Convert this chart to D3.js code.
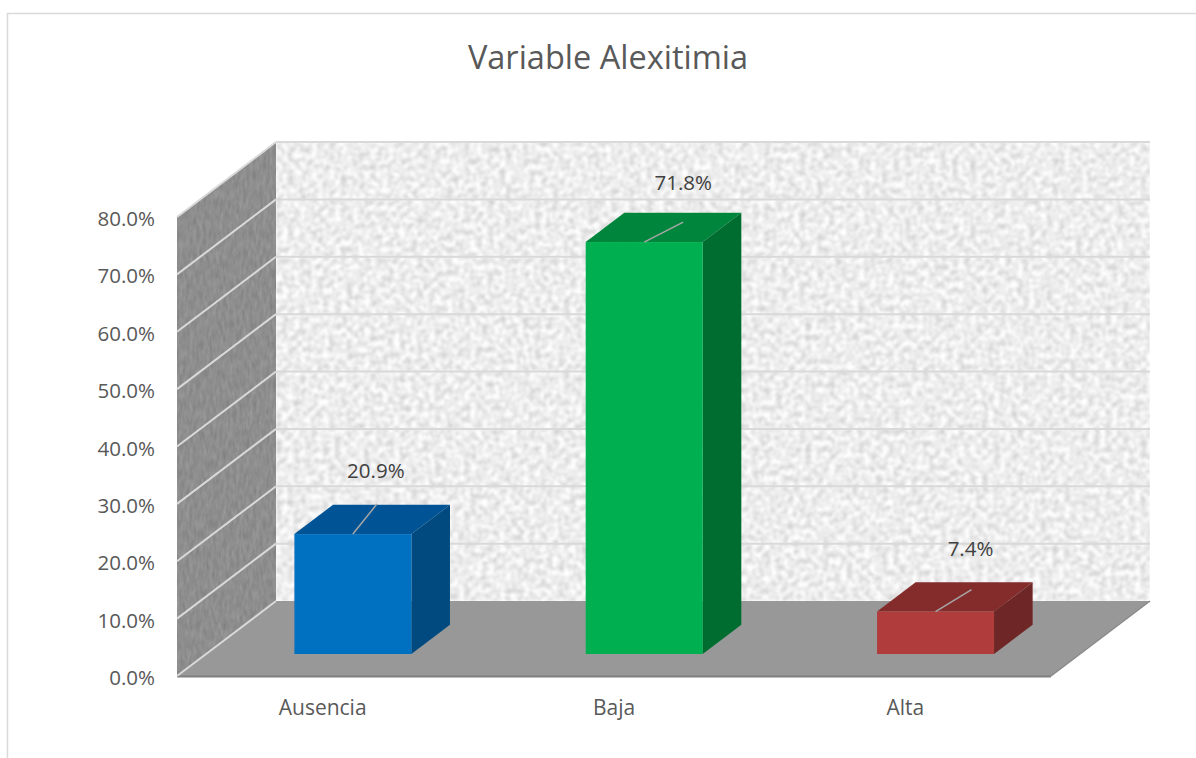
<!DOCTYPE html>
<html><head><meta charset="utf-8">
<script src="https://cdn.jsdelivr.net/npm/d3@7"></script>
<style>html,body{margin:0;padding:0;background:#fff}svg{display:block}text{font-family:"Open Sans",sans-serif}</style>
</head><body><div id="c"></div>
<script>
const categories = ["Ausencia","Baja","Alta"];
const values = [20.9,71.8,7.4];
const valueLabels = ["20.9%","71.8%","7.4%"];
const yTicks = [0,10,20,30,40,50,60,70,80];
const faceColors = ["#0070c0","#00b050","#b13c3c"];
const topColors = ["#005496","#00863c","#842c2c"];
const sideColors = ["#004a80","#006d30","#6f2626"];
const titleText = "Variable Alexitimia";

const W=1196,H=758;
const svg=d3.select("#c").append("svg").attr("width",W).attr("height",H);
const defs=svg.append("defs");
const wallF=defs.append("filter").attr("id","wallTex").attr("x",0).attr("y",0).attr("width",1).attr("height",1).attr("color-interpolation-filters","sRGB");
wallF.append("feTurbulence").attr("type","fractalNoise").attr("baseFrequency",0.17).attr("numOctaves",4).attr("seed",4);
wallF.append("feColorMatrix").attr("values","0.33 0 0 0 0.765  0.33 0 0 0 0.765  0.33 0 0 0 0.765  0 0 0 0 1");
wallF.append("feGaussianBlur").attr("stdDeviation",0.8);
const sideF=defs.append("filter").attr("id","sideTex").attr("x",0).attr("y",0).attr("width",1).attr("height",1).attr("color-interpolation-filters","sRGB");
sideF.append("feTurbulence").attr("type","fractalNoise").attr("baseFrequency","0.3 0.1").attr("numOctaves",3).attr("seed",9);
sideF.append("feColorMatrix").attr("values","0.13 0 0 0 0.49  0.13 0 0 0 0.49  0.13 0 0 0 0.49  0 0 0 0 1");
const clipSide=defs.append("clipPath").attr("id","sideClip");

// frame
const frame="#d9d9d9";
svg.append("path").attr("d",`M7.5,758V13.5H1196`).attr("fill","none").attr("stroke",frame).attr("stroke-width",1.5);

// scales
const y=d3.scaleLinear().domain([0,80]).range([676,217]);
const x=d3.scaleBand().domain(categories).range([177,1051]);
const dx=99,dy=-75;       // depth of the floor
const bd=0.39, bo=0.30;    // bar depth and bar offset, as share of the floor depth
const barW=117;
const y0=y(0),yT=y(80),xL=177,xR=1051;

// back wall
svg.append("rect").attr("x",xL+dx).attr("y",yT+dy).attr("width",xR-xL).attr("height",y0-yT).attr("fill","#eee").attr("filter","url(#wallTex)");
// side wall
const sidePts=`${xL},${yT} ${xL+dx},${yT+dy} ${xL+dx},${y0+dy} ${xL},${y0}`;
clipSide.append("polygon").attr("points",sidePts);
svg.append("g").attr("clip-path","url(#sideClip)").append("rect").attr("x",xL).attr("y",yT+dy).attr("width",dx).attr("height",y0-yT-dy).attr("filter","url(#sideTex)");
// floor
svg.append("polygon").attr("points",`${xL},${y0} ${xL+dx},${y0+dy} ${xR+dx},${y0+dy} ${xR},${y0}`).attr("fill","#989898");
svg.append("line").attr("x1",xL).attr("y1",y0+.5).attr("x2",xR).attr("y2",y0+.5).attr("stroke","#7f7f7f").attr("stroke-width",2);
svg.append("line").attr("x1",xR).attr("y1",y0).attr("x2",xR+dx).attr("y2",y0+dy).attr("stroke","#8a8a8a").attr("stroke-width",1.5);

// gridlines
yTicks.forEach(t=>{
  const g=svg.append("g").attr("fill","none").attr("stroke","#d9d9d9").attr("stroke-width",2);
  g.append("line").attr("x1",xL).attr("y1",y(t)).attr("x2",xL+dx).attr("y2",y(t)+dy);
  if(t>0) g.append("line").attr("x1",xL+dx).attr("y1",y(t)+dy).attr("x2",xR+dx).attr("y2",y(t)+dy);
});

// bars
const ox=dx*bo+0.5,oy=dy*bo+0.5,bx=dx*bd,by=dy*bd;
const cx=c=>x(c)+x.bandwidth()/2+ox;
const bars=svg.append("g").selectAll("g").data(categories).join("g");
bars.each(function(c,i){
  const g=d3.select(this),l=cx(c)-barW/2,r=l+barW,b=y(0)+oy,t=y(values[i])+oy;
  g.append("polygon").attr("points",`${l},${t} ${l+bx},${t+by} ${r+bx},${t+by} ${r},${t}`).attr("fill",topColors[i]);
  g.append("polygon").attr("points",`${r},${t} ${r+bx},${t+by} ${r+bx},${b+by} ${r},${b}`).attr("fill",sideColors[i]);
  g.append("rect").attr("x",l).attr("y",t).attr("width",barW).attr("height",b-t).attr("fill",faceColors[i]);
});

// leader lines and value labels
const labelOff=[[24,-30,23,-56],[39,-20,39,-52],[36,-22,35,-56]];
categories.forEach((c,i)=>{
  const px=cx(c),py=y(values[i])+oy,o=labelOff[i];
  svg.append("line").attr("x1",px).attr("y1",py).attr("x2",px+o[0]).attr("y2",py+o[1]).attr("stroke","#a6a6a6").attr("stroke-width",1.5);
  svg.append("text").attr("x",px+o[2]).attr("y",py+o[3]).attr("text-anchor","middle").attr("font-size",20.5).attr("fill","#404040").text(valueLabels[i]);
});

// axes
const ay=svg.append("g").attr("transform",`translate(${xL},2)`).call(d3.axisLeft(y).tickValues(yTicks).tickSize(0).tickPadding(22).tickFormat(d=>d.toFixed(1)+"%"));
ay.select(".domain").remove();
ay.selectAll("text").attr("font-size",20.5).attr("fill","#595959").style("font-family",'"Open Sans",sans-serif');
const ax=svg.append("g").attr("transform",`translate(0,${y0})`).call(d3.axisBottom(x).tickSize(0).tickPadding(24));
ax.select(".domain").remove();
ax.selectAll("text").attr("font-size",21).attr("fill","#595959").style("font-family",'"Open Sans",sans-serif');

// title
svg.append("text").attr("x",608).attr("y",69).attr("text-anchor","middle").attr("font-size",32.5).attr("fill","#595959").text(titleText);
</script></body></html>
